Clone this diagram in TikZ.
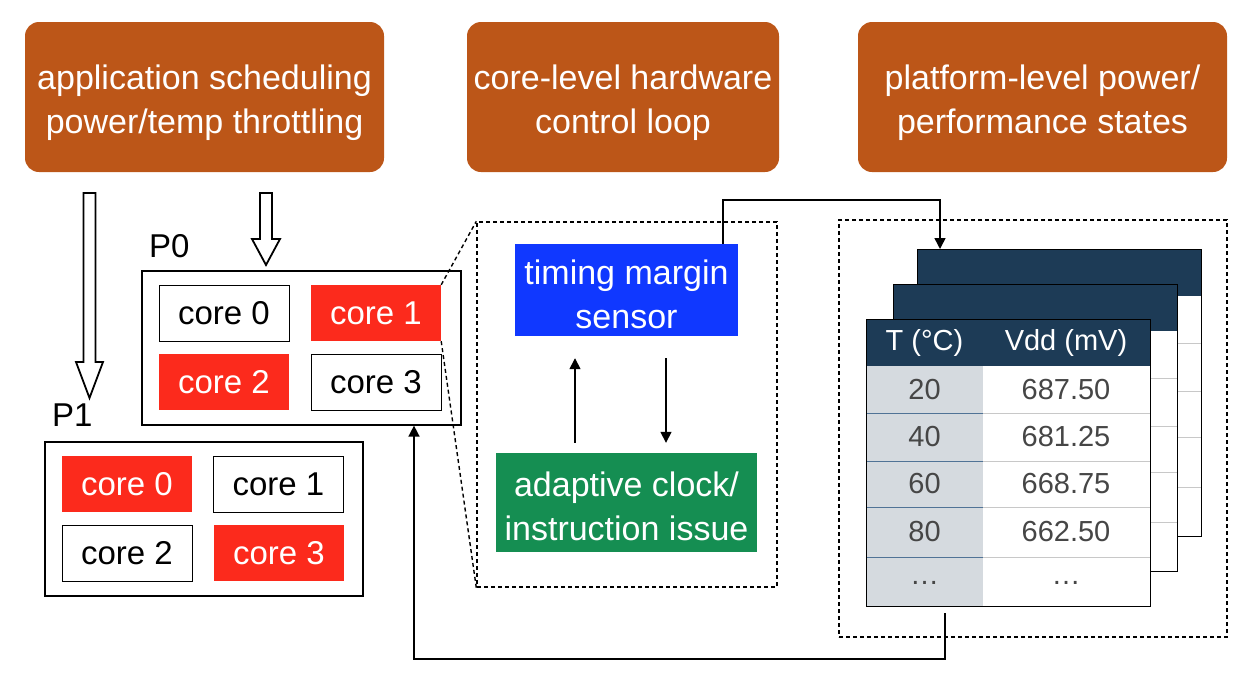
\documentclass[tikz,border=0pt]{standalone}
\usepackage{fontspec}
\setmainfont{Liberation Sans}
\usetikzlibrary{arrows.meta,calc}
\definecolor{orng}{RGB}{188,86,24}
\definecolor{corered}{RGB}{252,42,28}
\definecolor{sensblue}{RGB}{16,56,255}
\definecolor{clkgreen}{RGB}{21,142,82}
\definecolor{navy}{RGB}{29,59,86}
\definecolor{colgrey}{RGB}{213,218,223}
\definecolor{rowgray}{RGB}{200,200,200}
\definecolor{rowblue}{RGB}{80,115,150}
\definecolor{txtgray}{RGB}{70,70,70}
\tikzset{
  topbox/.style={fill=orng, rounded corners=14pt, text=white, align=center, inner sep=0pt,
    font=\fontsize{34}{44}\selectfont},
  core/.style={minimum width=130pt, minimum height=56pt, inner sep=0pt, font=\fontsize{33}{38}\selectfont},
  corew/.style={core, draw=black, line width=1pt, fill=white},
  corer/.style={core, fill=corered, text=white},
  pbox/.style={draw=black, line width=1.2pt, inner sep=0pt, minimum height=154pt},
  plabel/.style={font=\fontsize{33}{38}\selectfont, anchor=west, inner sep=0pt},
  zoombox/.style={draw=black, line width=1.4pt, dash pattern=on 4pt off 3pt, inner sep=0pt},
  ctrlbox/.style={text=white, align=center, inner sep=0pt, font=\fontsize{34}{44}\selectfont},
  conn/.style={line width=1.5pt, -{Triangle[width=11pt,length=11pt]}},
  hollow/.style={draw=black, line width=1.8pt, fill=white, line join=miter},
  tframe/.style={draw=black, line width=1pt, minimum width=284pt, minimum height=287pt, inner sep=0pt, anchor=north west},
  hdr/.style={text=white, font=\fontsize{29}{34}\selectfont, inner sep=0pt},
  cell/.style={text=txtgray, font=\fontsize{29}{34}\selectfont, inner sep=0pt}
}
\begin{document}
\begin{tikzpicture}[x=1pt,y=-1pt]
\useasboundingbox (0,0) rectangle (1244,694);

% top boxes
\node[topbox, minimum width=359pt, minimum height=150pt] (tb1) at (204.5,97) {\rule{0pt}{37pt}application scheduling\\power/temp throttling};
\node[topbox, minimum width=312pt, minimum height=150pt] (tb2) at (623,97) {\rule{0pt}{37pt}core-level hardware\\control loop};
\node[topbox, minimum width=369pt, minimum height=150pt] (tb3) at (1042.5,97) {\rule{0pt}{37pt}platform-level power/\\performance states};

% hollow arrows
\draw[hollow] (83.5,193) -- (95.5,193) -- (95.5,362) -- (103,362) -- (89.5,398) -- (76,362) -- (83.5,362) -- cycle;
\draw[hollow] (260,193) -- (272,193) -- (272,239) -- (280,239) -- (266,265) -- (252,239) -- (260,239) -- cycle;

% P0
\node[plabel] (p0lbl) at (149,246) {P0};
\node[pbox, minimum width=319pt] (P0) at (301.5,348) {};
\node[corew] (p0c0) at (224,313) {core 0};
\node[corer] (p0c1) at (376,313) {core 1};
\node[corer] (p0c2) at (224,382) {core 2};
\node[corew] (p0c3) at (376,382) {core 3};

% P1
\node[plabel] (p1lbl) at (52,415) {P1};
\node[pbox, minimum width=318pt] (P1) at (204,519) {};
\node[corer] (p1c0) at (127,484) {core 0};
\node[corew] (p1c1) at (278.5,484) {core 1};
\node[corew] (p1c2) at (127,553) {core 2};
\node[corer] (p1c3) at (279,553) {core 3};

% middle zoom box
\node[zoombox, minimum width=300pt, minimum height=365pt] (mid) at (627,404.5) {};
\draw[line width=1.4pt, dash pattern=on 4pt off 3pt] (p0c1.north east) -- (mid.north west);
\draw[line width=1.4pt, dash pattern=on 4pt off 3pt] (p0c1.south east) -- (mid.south west);

\node[ctrlbox, fill=sensblue, minimum width=223pt, minimum height=92pt] (sensor) at (626.5,290) {\rule{0pt}{33pt}timing margin\\sensor};
\node[ctrlbox, fill=clkgreen, minimum width=261pt, minimum height=99pt] (clock) at (626.5,502.5) {\rule{0pt}{33pt}adaptive clock/\\instruction issue};
\draw[conn] ($(clock.north)+(-51.5,-10)$) -- ($(sensor.south)+(-51.5,22)$);
\draw[conn] ($(sensor.south)+(39.5,22)$) -- ($(clock.north)+(39.5,-10)$);

% right zoom box
\node[zoombox, minimum width=388pt, minimum height=417pt] (right) at (1033,428.5) {};

% back tables
\foreach \dx/\dy/\nm in {51/-70/tB, 27/-35/tM} {
  \fill[white] (866+\dx,319+\dy) rectangle +(284,287);
  \fill[navy] (866+\dx,319+\dy) rectangle +(284,47);
  \foreach \r in {413,461,507,557}
    \draw[rowgray, line width=0.8pt] (866+\dx,\r+\dy) -- +(284,0);
  \node[tframe] (\nm) at (866+\dx,319+\dy) {};
}

% front table
\fill[white] (866,319) rectangle (1150,606);
\fill[colgrey] (866,366) rectangle (983,606);
\fill[navy] (866,319) rectangle (1150,366);
\foreach \r in {413,461,507,557} {
  \draw[rowblue, line width=0.8pt] (866,\r) -- (983,\r);
  \draw[rowgray, line width=0.8pt] (983,\r) -- (1150,\r);
}
\node[tframe] (tF) at (866,319) {};
\node[hdr] (h1) at (924.5,342.5) {T (°C)};
\node[hdr] (h2) at (1066,342.5) {Vdd (mV)};
\node[cell] (a1) at (924.5,390) {20};
\node[cell] (b1) at (1066,390) {687.50};
\node[cell] (a2) at (924.5,437) {40};
\node[cell] (b2) at (1066,437) {681.25};
\node[cell] (a3) at (924.5,484) {60};
\node[cell] (b3) at (1066,484) {668.75};
\node[cell] (a4) at (924.5,532) {80};
\node[cell] (b4) at (1066,532) {662.50};
\node[cell] (a5) at (924.5,583) {…};
\node[cell] (b5) at (1066,583) {…};

% feedback connectors
\draw[conn] ($(sensor.north)+(96.5,0)$) -- ++(0,-44) -| ($(tB.north west)+(23,0)$);
\draw[conn] ($(tF.south west)+(79,6)$) -- ++(0,46) -| (P0.south -| 414,0);
\end{tikzpicture}
\end{document}
